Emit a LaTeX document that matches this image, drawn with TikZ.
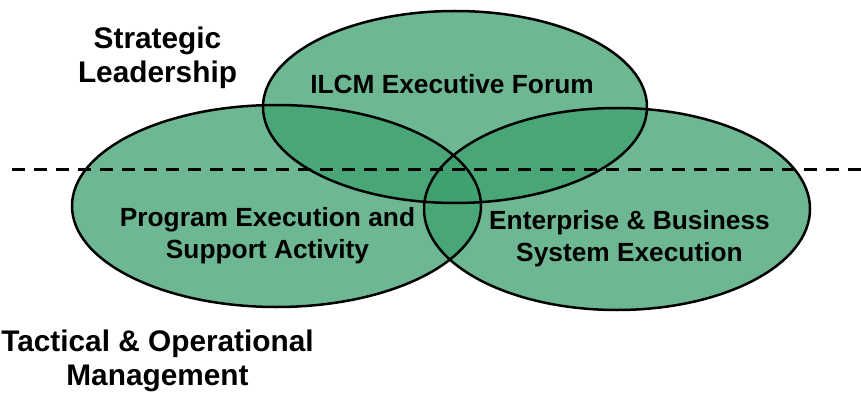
\documentclass[tikz,border=0pt]{standalone}
\usepackage{fontspec}
\setmainfont{Liberation Sans}
\definecolor{venngreen}{RGB}{60,160,110}
\begin{document}
\begin{tikzpicture}[x=1pt,y=-1pt,
  vennfill/.style={fill=venngreen,fill opacity=0.75},
  vennline/.style={draw=black,line width=2.5pt},
  divider/.style={draw=black,line width=3pt,dash pattern=on 13pt off 9pt},
  outerlabel/.style={inner sep=0pt,align=center,font=\bfseries\fontsize{29.8}{34}\selectfont},
  innerlabel/.style={inner sep=0pt,align=center,font=\bfseries\fontsize{26.3}{32}\selectfont}]
\useasboundingbox (0,0) rectangle (861,393);
% fills
\path[vennfill] (276.5,206) ellipse [x radius=204.5, y radius=101];
\path[vennfill] (617,209) ellipse [x radius=193, y radius=101];
\path[vennfill] (455,107) ellipse [x radius=192, y radius=96];
% outlines
\draw[vennline] (276.5,206) ellipse [x radius=204.5, y radius=101];
\draw[vennline] (617,209) ellipse [x radius=193, y radius=101];
\draw[vennline] (455,107) ellipse [x radius=192, y radius=96];
% divider
\coordinate (dl) at (12,169);
\coordinate (dr) at (861,169);
\draw[divider] (dl) -- (dr);
% labels
\node[outerlabel] (strat) at (157.5,57.3) {Strategic\\Leadership};
\node[outerlabel] (tact) at (157.5,361) {Tactical \& Operational\\Management};
\node[innerlabel,anchor=base] (ilcm) at (452,94) {ILCM Executive Forum};
\node[innerlabel] (prog) at (267.5,235.5) {Program Execution and\\Support Activity};
\node[innerlabel] (ent) at (629.5,238.5) {Enterprise \& Business\\System Execution};
\end{tikzpicture}
\end{document}
